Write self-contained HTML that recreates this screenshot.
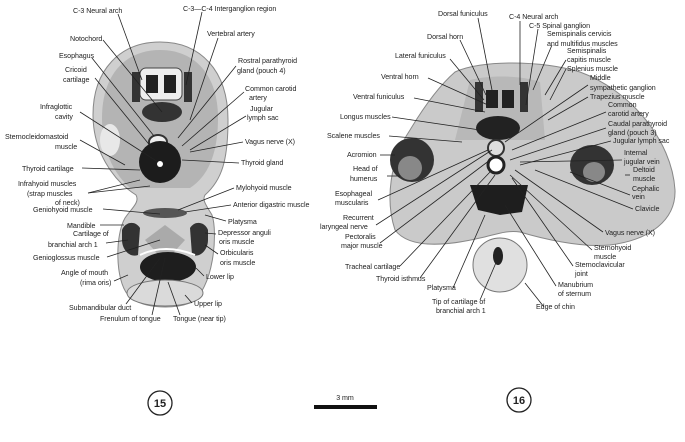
<!DOCTYPE html>
<html><head><meta charset="utf-8"><style>
html,body{margin:0;padding:0;background:#fff}
svg{display:block}
text{font-family:"Liberation Sans",sans-serif;font-size:7.1px;fill:#222;letter-spacing:-0.05px}
.l{stroke:#222;stroke-width:0.8;fill:none}
</style></head><body>
<svg width="685" height="442" viewBox="0 0 685 442" xmlns="http://www.w3.org/2000/svg">
<rect width="685" height="442" fill="#fff"/>
<path d="M160,42 C200,42 228,70 228,120 C228,160 222,180 205,195 C202,200 206,205 212,215 C218,232 214,290 190,303 C170,310 140,308 128,295 C115,280 115,235 125,218 C132,208 140,202 136,195 C112,180 93,150 93,115 C93,70 120,42 160,42 Z" fill="#cfcfcf" stroke="#888" stroke-width="1"/>
<path d="M160,50 C195,50 218,75 218,118 C218,150 210,175 190,188 L130,188 C110,170 102,145 102,118 C102,75 125,50 160,50Z" fill="#b4b4b4"/>
<rect x="140" y="68" width="42" height="32" rx="6" fill="#eee" stroke="#444"/>
<path d="M146,75 h12 v18 h-12z M164,75 h12 v18 h-12z" fill="#222"/>
<ellipse cx="162" cy="112" rx="20" ry="10" fill="#333"/>
<rect x="132" y="72" width="8" height="30" fill="#333"/><rect x="184" y="72" width="8" height="30" fill="#333"/>
<ellipse cx="158" cy="142" rx="9" ry="7" fill="#eee" stroke="#333" stroke-width="2"/>
<circle cx="160" cy="162" r="21" fill="#1c1c1c"/><circle cx="160" cy="164" r="3" fill="#fff"/>
<ellipse cx="110" cy="140" rx="10" ry="16" fill="#e8e8e8"/>
<ellipse cx="165" cy="213" rx="22" ry="5" fill="#555"/>
<path d="M122,230 C125,222 135,220 140,228 L138,255 C130,258 122,250 122,240Z" fill="#333"/>
<path d="M208,230 C205,222 195,220 190,228 L192,255 C200,258 208,250 208,240Z" fill="#333"/>
<path d="M145,240 L165,225 L185,240 L165,262Z" fill="#aaa"/>
<ellipse cx="168" cy="267" rx="28" ry="15" fill="#1e1e1e"/>
<path d="M140,255 q25,-12 55,0" stroke="#fff" stroke-width="2" fill="none"/>
<ellipse cx="165" cy="293" rx="38" ry="13" fill="#dadada" stroke="#777"/>
<path d="M455,72 C480,60 540,60 580,72 C630,90 672,140 675,190 C676,220 650,240 610,245 C580,248 540,238 520,232 C505,230 495,235 480,238 C450,245 410,250 395,230 C385,200 390,160 410,130 C425,105 440,85 455,72Z" fill="#cacaca" stroke="#888"/>
<path d="M470,80 C490,75 520,75 540,82 L545,140 L455,140Z" fill="#b8b8b8"/>
<path d="M486,90 h12 v18 h-12z M502,90 h12 v18 h-12z" fill="#222"/>
<rect x="475" y="82" width="8" height="30" fill="#333"/><rect x="520" y="82" width="8" height="30" fill="#333"/>
<ellipse cx="498" cy="128" rx="22" ry="12" fill="#222"/>
<circle cx="496" cy="148" r="8" fill="#ddd" stroke="#333" stroke-width="2"/>
<circle cx="496" cy="165" r="8" fill="#fff" stroke="#222" stroke-width="3"/>
<path d="M470,185 L528,185 L522,212 L500,215 L478,210Z" fill="#1e1e1e"/>
<ellipse cx="412" cy="160" rx="22" ry="22" fill="#333"/><ellipse cx="410" cy="168" rx="12" ry="12" fill="#888"/>
<ellipse cx="592" cy="165" rx="22" ry="20" fill="#333"/><ellipse cx="594" cy="172" rx="11" ry="10" fill="#888"/>
<ellipse cx="500" cy="265" rx="27" ry="27" fill="#e0e0e0" stroke="#777"/>
<ellipse cx="498" cy="256" rx="5" ry="9" fill="#222"/>
<g>
<text x="73" y="13">C-3 Neural arch</text>
<text x="183" y="11">C-3—C-4 Interganglion region</text>
<text x="70" y="41">Notochord</text>
<text x="207" y="36">Vertebral artery</text>
<text x="59" y="58">Esophagus</text>
<text x="65" y="72">Cricoid</text><text x="63" y="82">cartilage</text>
<text x="238" y="63">Rostral parathyroid</text><text x="237" y="73">gland (pouch 4)</text>
<text x="245" y="91">Common carotid</text><text x="249" y="100">artery</text>
<text x="40" y="109">Infraglottic</text><text x="55" y="119">cavity</text>
<text x="250" y="111">Jugular</text><text x="247" y="120">lymph sac</text>
<text x="5" y="139">Sternocleidomastoid</text><text x="55" y="149">muscle</text>
<text x="245" y="144">Vagus nerve (X)</text>
<text x="22" y="171">Thyroid cartilage</text>
<text x="241" y="165">Thyroid gland</text>
<text x="18" y="186">Infrahyoid muscles</text><text x="27" y="196">(strap muscles</text><text x="55" y="205">of neck)</text>
<text x="236" y="190">Mylohyoid muscle</text>
<text x="33" y="212">Geniohyoid muscle</text>
<text x="233" y="207">Anterior digastric muscle</text>
<text x="67" y="228">Mandible</text>
<text x="228" y="224">Platysma</text>
<text x="73" y="236">Cartilage of</text><text x="48" y="247">branchial arch 1</text>
<text x="218" y="235">Depressor anguli</text><text x="219" y="244">oris muscle</text>
<text x="33" y="260">Genioglossus muscle</text>
<text x="220" y="255">Orbicularis</text><text x="220" y="265">oris muscle</text>
<text x="61" y="275">Angle of mouth</text><text x="80" y="285">(rima oris)</text>
<text x="206" y="279">Lower lip</text>
<text x="69" y="310">Submandibular duct</text>
<text x="194" y="306">Upper lip</text>
<text x="100" y="321">Frenulum of tongue</text><text x="173" y="321">Tongue (near tip)</text>
</g>
<g class="l">
<path d="M118,14 L142,80"/><path d="M202,12 L186,85"/><path d="M103,40 L162,112"/><path d="M218,38 L190,120"/>
<path d="M92,58 L154,136"/><path d="M95,78 L152,148"/><path d="M236,66 L178,138"/><path d="M244,92 L182,146"/>
<path d="M80,112 L158,162"/><path d="M246,116 L190,150"/><path d="M80,140 L125,165"/><path d="M243,142 L190,152"/>
<path d="M82,168 L140,170"/><path d="M239,163 L182,160"/><path d="M88,193 L150,186"/><path d="M88,193 L140,180"/>
<path d="M234,188 L178,210"/><path d="M103,209 L160,214"/><path d="M231,205 L185,212"/><path d="M100,225 L124,225"/>
<path d="M226,221 L205,215"/><path d="M106,243 L128,240"/><path d="M216,234 L205,233"/><path d="M107,257 L160,240"/>
<path d="M218,254 L205,245"/><path d="M114,281 L128,275"/><path d="M204,276 L196,268"/><path d="M126,304 L160,258"/>
<path d="M192,303 L185,295"/><path d="M152,315 L165,258"/><path d="M180,315 L168,282"/>
</g>
<g>
<text x="438" y="16">Dorsal funiculus</text>
<text x="509" y="19">C-4 Neural arch</text>
<text x="529" y="28">C-5 Spinal ganglion</text>
<text x="427" y="39">Dorsal horn</text>
<text x="547" y="36">Semispinalis cervicis</text><text x="547" y="46">and multifidus muscles</text>
<text x="567" y="53">Semispinalis</text><text x="567" y="62">capitis muscle</text>
<text x="395" y="58">Lateral funiculus</text>
<text x="567" y="71">Splenius muscle</text>
<text x="381" y="79">Ventral horn</text>
<text x="590" y="80">Middle</text><text x="590" y="90">sympathetic ganglion</text>
<text x="353" y="99">Ventral funiculus</text>
<text x="590" y="99">Trapezius muscle</text>
<text x="608" y="107">Common</text><text x="608" y="116">carotid artery</text>
<text x="340" y="119">Longus muscles</text>
<text x="608" y="126">Caudal parathyroid</text><text x="608" y="135">gland (pouch 3)</text>
<text x="327" y="138">Scalene muscles</text>
<text x="613" y="143">Jugular lymph sac</text>
<text x="347" y="157">Acromion</text>
<text x="624" y="155">Internal</text><text x="624" y="164">jugular vein</text>
<text x="353" y="171">Head of</text><text x="350" y="181">humerus</text>
<text x="633" y="172">Deltoid</text><text x="633" y="181">muscle</text>
<text x="335" y="196">Esophageal</text><text x="335" y="205">muscularis</text>
<text x="632" y="191">Cephalic</text><text x="632" y="199">vein</text>
<text x="635" y="211">Clavicle</text>
<text x="343" y="220">Recurrent</text><text x="320" y="229">laryngeal nerve</text>
<text x="345" y="239">Pectoralis</text><text x="341" y="248">major muscle</text>
<text x="605" y="235">Vagus nerve (X)</text>
<text x="594" y="250">Sternohyoid</text><text x="594" y="259">muscle</text>
<text x="345" y="269">Tracheal cartilage</text>
<text x="575" y="267">Sternoclavicular</text><text x="575" y="276">joint</text>
<text x="376" y="281">Thyroid isthmus</text>
<text x="427" y="290">Platysma</text>
<text x="558" y="287">Manubrium</text><text x="558" y="296">of sternum</text>
<text x="432" y="304">Tip of cartilage of</text><text x="436" y="313">branchial arch 1</text>
<text x="536" y="309">Edge of chin</text>
</g>
<g class="l">
<path d="M478,18 L492,90"/><path d="M520,21 L520,85"/><path d="M538,29 L526,105"/><path d="M460,40 L486,95"/>
<path d="M552,45 L533,90"/><path d="M566,60 L545,95"/><path d="M450,59 L484,100"/><path d="M566,69 L550,100"/>
<path d="M428,78 L488,105"/><path d="M588,85 L505,142"/><path d="M414,98 L485,112"/><path d="M588,97 L548,120"/>
<path d="M606,112 L512,150"/><path d="M392,117 L480,130"/><path d="M606,128 L510,160"/><path d="M389,136 L462,142"/>
<path d="M611,141 L520,165"/><path d="M380,155 L395,155"/><path d="M622,160 L520,162"/><path d="M387,176 L400,176"/>
<path d="M630,175 L625,175"/><path d="M378,200 L488,150"/><path d="M630,195 L570,172"/><path d="M633,209 L535,170"/>
<path d="M376,225 L492,150"/><path d="M380,243 L490,160"/><path d="M603,232 L515,170"/><path d="M592,250 L510,175"/>
<path d="M400,266 L490,172"/><path d="M573,266 L512,178"/><path d="M420,278 L495,175"/><path d="M453,288 L485,215"/>
<path d="M556,286 L505,205"/><path d="M480,300 L498,258"/><path d="M544,307 L525,283"/>
</g>
<circle cx="160" cy="403" r="12" fill="none" stroke="#222" stroke-width="1.3"/>
<text x="160" y="407" text-anchor="middle" style="font-size:11px;font-weight:bold">15</text>
<circle cx="519" cy="400" r="12" fill="none" stroke="#222" stroke-width="1.3"/>
<text x="519" y="404" text-anchor="middle" style="font-size:11px;font-weight:bold">16</text>
<text x="345" y="400" text-anchor="middle">3 mm</text>
<rect x="314" y="405" width="63" height="4" fill="#111"/>
</svg>
</body></html>
